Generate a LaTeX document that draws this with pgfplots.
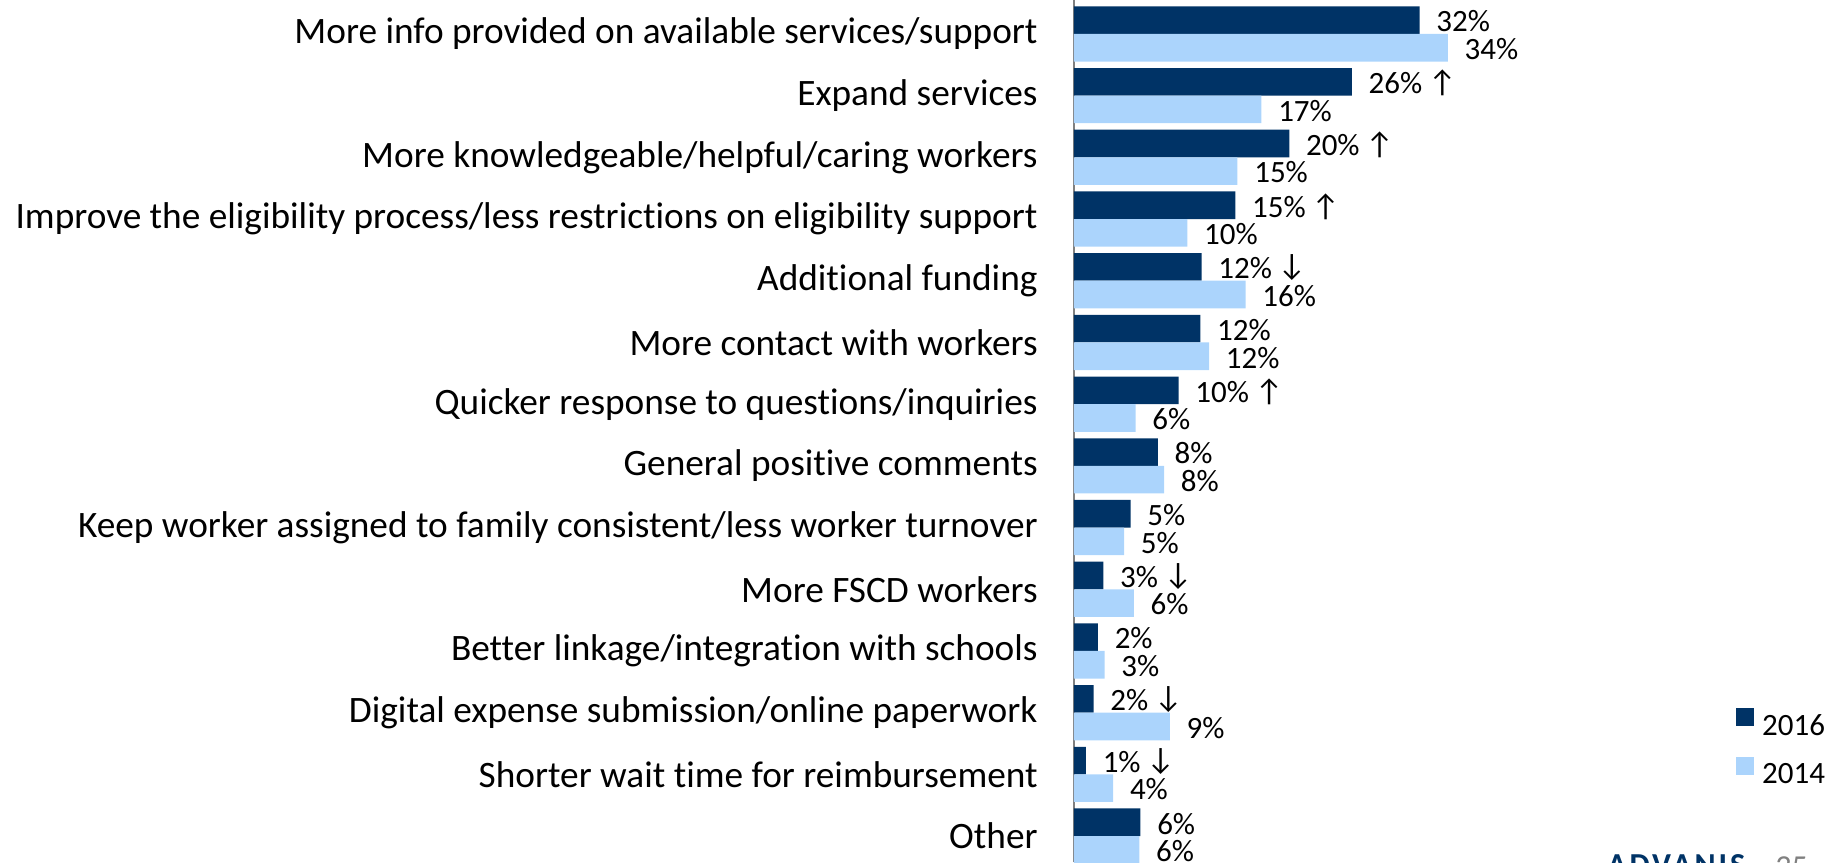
\documentclass[border=0pt]{standalone}
\usepackage{fontspec}
\setmainfont{Carlito}[Ligatures={NoCommon}]
\usepackage{pgfplots}
\pgfplotsset{compat=1.18}
\definecolor{navy16}{RGB}{0,51,102}
\definecolor{blue14}{RGB}{171,212,252}
\definecolor{axisgray}{RGB}{128,128,128}
\newcommand{\up}{\kern3pt\raisebox{0.5pt}{\fontsize{15.5}{16}\selectfont ↑}}
\newcommand{\dn}{\kern3pt\raisebox{1.5pt}{\fontsize{15.5}{16}\selectfont ↓}}

\begin{document}
\begin{tikzpicture}
\path[use as bounding box] (-537pt,0pt) rectangle (386pt,431pt);
\begin{axis}[
  at={(0pt,0pt)}, anchor=south west,
  scale only axis,
  width=218pt, height=431pt,
  xbar, bar width=13.8pt,
  xmin=0, xmax=40,
  ymin=-0.42, ymax=13.55,
  axis x line=none,
  axis y line*=left,
  y axis line style={draw=axisgray, line width=0.7pt},
  ytick={0,...,13},
  yticklabels={Other, Shorter wait time for reimbursement, Digital expense submission/online paperwork, Better linkage/integration with schools, More FSCD workers, Keep worker assigned to family consistent/less worker turnover, General positive comments, Quicker response to questions/inquiries, More contact with workers, Additional funding, Improve the eligibility process/less restrictions on eligibility support, More knowledgeable/helpful/caring workers, Expand services, More info provided on available services/support},
  major tick length=0pt,
  yticklabel style={font=\fontsize{18.65}{22}\selectfont, anchor=east, inner sep=0pt, xshift=-18pt},
  point meta=explicit symbolic,
  nodes near coords,
  every node near coord/.append style={font=\fontsize{15.5}{18}\selectfont, anchor=west, inner sep=0pt,
    text height=9.8pt, text depth=0pt, xshift=8.2pt, yshift=-1pt, text=black},
  legend style={at={(axis description cs:1.518,0.1328)}, anchor=west, draw=none, fill=none,
    inner sep=0pt, row sep=9.7pt, column sep=4pt, font=\fontsize{15.5}{18}\selectfont,
    nodes={inner sep=0pt}},
  legend cell align=left,
  legend image code/.code={\fill[#1] (0pt,0pt) rectangle (9pt,9pt);},
]
% 2016
\addplot[fill=navy16, draw=none, bar shift=6.9pt] coordinates {
  (31.7,13) [32\%] (25.5,12) [26\%\up] (19.75,11) [20\%\up] (14.8,10) [15\%\up]
  (11.7,9) [12\%\dn] (11.6,8) [12\%] (9.6,7) [10\%\up] (7.7,6) [8\%]
  (5.2,5) [5\%] (2.7,4) [3\%\dn] (2.2,3) [2\%] (1.8,2) [2\%\dn]
  (1.1,1) [1\%\dn] (6.1,0) [6\%]
};
% 2014
\addplot[fill=blue14, draw=none, bar shift=-6.9pt] coordinates {
  (34.3,13) [34\%] (17.2,12) [17\%] (15.0,11) [15\%] (10.4,10) [10\%]
  (15.75,9) [16\%] (12.4,8) [12\%] (5.66,7) [6\%] (8.26,6) [8\%]
  (4.6,5) [5\%] (5.5,4) [6\%] (2.8,3) [3\%] (8.8,2) [9\%]
  (3.6,1) [4\%] (6.0,0) [6\%]
};
\legend{2016, 2014}
\end{axis}
\node[anchor=base west, text=navy16, inner sep=0pt,
  font=\bfseries\fontsize{16}{18}\selectfont\addfontfeature{LetterSpace=9}] at (266.5pt,-6.8pt) {ADVANIS};
\node[anchor=base west, text=axisgray, inner sep=0pt, font=\fontsize{16}{18}\selectfont] at (350.5pt,-7.5pt) {35};
\end{tikzpicture}
\end{document}
